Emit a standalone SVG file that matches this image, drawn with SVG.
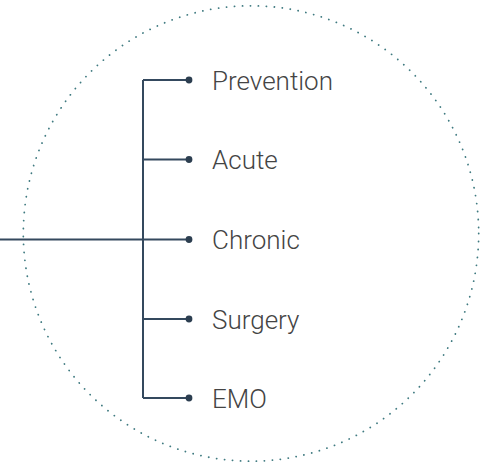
<svg xmlns="http://www.w3.org/2000/svg" width="481" height="464" viewBox="0 0 481 464">
<style>
.ring{fill:none;stroke:#3f7a80;stroke-width:1.8;stroke-dasharray:0.1 7.9;stroke-linecap:round}
.ln{fill:none;stroke:#34495e;stroke-width:2}
.dot{fill:#2c3e50}
.lbl{font-family:Roboto,"Liberation Sans",sans-serif;font-weight:300;font-size:26px;fill:#444}
</style>
<circle class="ring" cx="251" cy="233.5" r="227.7"/>
<g id="connectors">
<path class="ln" d="M0 239.5H189"/>
<path class="ln" d="M143 80V398"/>
<path class="ln" d="M143 80H189M143 159.5H189M143 319H189M143 398H189"/>
</g>
<g id="prevention"><circle class="dot" cx="189" cy="80" r="3.4"/><text class="lbl" x="212" y="89.5">Prevention</text></g>
<g id="acute"><circle class="dot" cx="189" cy="159.5" r="3.4"/><text class="lbl" x="212" y="169">Acute</text></g>
<g id="chronic"><circle class="dot" cx="189" cy="239.5" r="3.4"/><text class="lbl" x="212" y="249">Chronic</text></g>
<g id="surgery"><circle class="dot" cx="189" cy="319" r="3.4"/><text class="lbl" x="212" y="328.5">Surgery</text></g>
<g id="emo"><circle class="dot" cx="189" cy="398" r="3.4"/><text class="lbl" x="212" y="407.5">EMO</text></g>
</svg>
